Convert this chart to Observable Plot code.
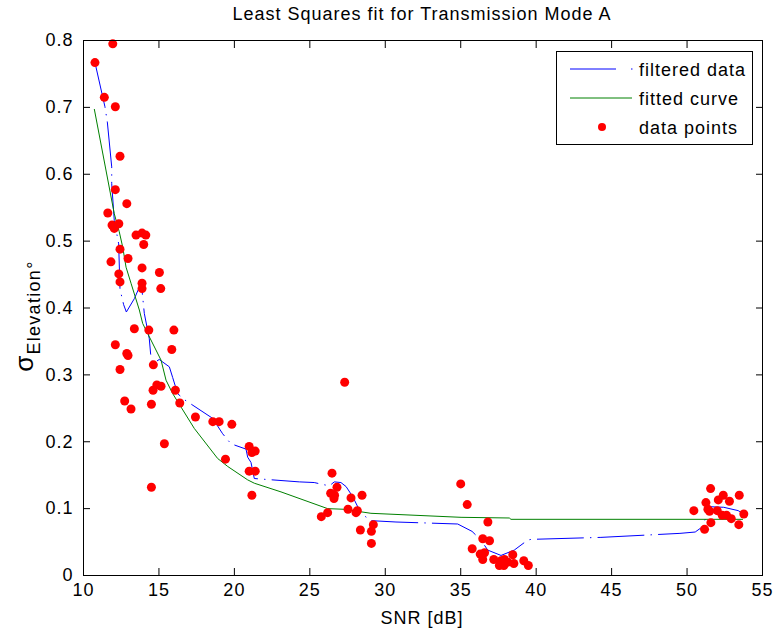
<!DOCTYPE html>
<html>
<head>
<meta charset="utf-8">
<script src="https://cdn.jsdelivr.net/npm/d3@7"></script>
<script src="https://cdn.jsdelivr.net/npm/@observablehq/plot@0.6"></script>
<style>
  html, body { margin: 0; padding: 0; background: #fff; }
  #wrap { position: relative; width: 777px; height: 635px; overflow: hidden;
          font-family: "Liberation Sans", Arial, Helvetica, sans-serif; letter-spacing: 1px; color: #000; }
  #wrap svg { position: absolute; left: 0; top: 0; }
  .title { position: absolute; left: 0; width: 844px; top: 5px; text-align: center; font-size: 18px; line-height: 18px; }
  .xlabel { position: absolute; left: 0; width: 844px; top: 609px; text-align: center; font-size: 18px; line-height: 18px; }
  .ylabel { position: absolute; left: 29px; top: 316px; transform: translate(-50%, -50%) rotate(-90deg);
            white-space: nowrap; line-height: 24px; }
  .ylabel .sym { font-size: 26px; }
  .ylabel sub { font-size: 18px; vertical-align: -7px; letter-spacing: 1.3px; }
</style>
</head>
<body>
<div id="wrap"></div>
<script>
// ---- data ----
const titleText = "Least Squares fit for Transmission Mode A";
const xLabelText = "SNR [dB]";
const ySymbol = "σ";
const ySubscript = "Elevation°";
const legendLabels = ["filtered data", "fitted curve", "data points"];
const xTicks = [10, 15, 20, 25, 30, 35, 40, 45, 50, 55];
const yTicks = [0, 0.1, 0.2, 0.3, 0.4, 0.5, 0.6, 0.7, 0.8];

// data points
const pointSnr = [
  10.76, 11.94, 11.38, 12.11, 12.42, 12.11, 12.87, 11.61, 11.89, 12.34, 12.04, 13.48, 13.88, 14.13, 13.99,
  12.42, 11.82, 12.95, 13.88, 15.03, 12.34, 12.42, 13.88, 13.88, 15.12, 13.37, 14.33, 15.99, 12.11, 12.87,
  12.95, 15.85, 12.42, 14.63, 14.86, 15.14, 14.61, 16.09, 12.73, 13.15, 14.50, 16.38, 15.36, 14.50, 17.42,
  18.57, 18.99, 19.83, 19.41, 20.98, 21.16, 21.38, 20.98, 21.38, 21.16,
  27.31, 26.47, 26.80, 26.38, 26.64, 26.60, 27.73, 28.46, 27.53, 26.18, 25.76, 28.15, 28.06, 29.21, 29.08,
  28.35, 29.08,
  35.00, 35.43, 36.80, 36.46, 36.91, 35.76, 36.29, 36.58, 36.46, 37.19, 37.67, 37.90, 37.56, 37.86, 38.12,
  38.45, 38.52, 39.18, 39.48,
  51.56, 52.40, 53.46, 52.07, 52.81, 51.25, 50.45, 51.38, 51.49, 52.00, 52.33, 52.62, 52.93, 53.76, 51.58,
  53.43, 51.16
];
const pointSigma = [
  0.767, 0.795, 0.715, 0.701, 0.627, 0.577, 0.556, 0.542, 0.524, 0.526, 0.519, 0.509, 0.512, 0.509, 0.495,
  0.488, 0.469, 0.474, 0.460, 0.453, 0.451, 0.439, 0.437, 0.429, 0.429, 0.369, 0.367, 0.367, 0.345, 0.332,
  0.329, 0.338, 0.308, 0.315, 0.285, 0.283, 0.277, 0.277, 0.261, 0.249, 0.256, 0.258, 0.197, 0.132, 0.237,
  0.230, 0.230, 0.226, 0.174, 0.193, 0.184, 0.186, 0.156, 0.156, 0.120,
  0.289, 0.153, 0.132, 0.123, 0.120, 0.115, 0.116, 0.120, 0.099, 0.094, 0.088, 0.097, 0.094, 0.076, 0.066,
  0.068, 0.048,
  0.137, 0.106, 0.080, 0.055, 0.052, 0.040, 0.032, 0.034, 0.024, 0.024, 0.022, 0.024, 0.015, 0.015, 0.020,
  0.031, 0.018, 0.022, 0.015,
  0.130, 0.120, 0.120, 0.113, 0.111, 0.109, 0.097, 0.099, 0.096, 0.097, 0.090, 0.090, 0.085, 0.092, 0.079,
  0.076, 0.069
];

// filtered data (blue dash-dot)
const filteredSnr = [
  10.76, 11.42, 11.58, 11.87, 11.87, 12.04, 12.33, 12.42, 12.66, 12.84, 13.37, 13.70, 13.88, 14.03, 14.36,
  14.45, 14.61, 15.02, 15.69, 15.91, 16.24, 16.68, 18.56, 19.22, 19.77, 20.77, 20.88, 21.10, 21.32, 24.30,
  25.29, 26.29, 26.62, 27.06, 27.40, 27.84, 28.39, 29.05, 30.71, 34.80, 35.75, 36.34, 36.79, 37.67, 38.55,
  39.44, 39.66, 44.29, 49.53, 50.54, 51.03, 51.32, 51.36, 52.43, 53.39, 53.68
];
const filteredSigma = [
  0.767, 0.701, 0.678, 0.611, 0.586, 0.531, 0.496, 0.428, 0.405, 0.394, 0.414, 0.431, 0.426, 0.392, 0.354,
  0.331, 0.317, 0.323, 0.312, 0.296, 0.272, 0.263, 0.235, 0.212, 0.197, 0.189, 0.177, 0.169, 0.145, 0.140,
  0.139, 0.134, 0.140, 0.139, 0.133, 0.118, 0.093, 0.082, 0.080, 0.077, 0.066, 0.053, 0.038, 0.030, 0.038,
  0.053, 0.054, 0.057, 0.063, 0.065, 0.073, 0.092, 0.103, 0.102, 0.097, 0.093
];

// fitted curve (green)
const fittedSnr = [
  10.72, 12.04, 12.37, 12.60, 12.82, 13.15, 13.70, 13.92, 14.25, 15.14, 15.47, 15.91, 16.46, 17.34, 18.89,
  19.56, 20.88, 21.32, 23.09, 26.18, 27.28, 29.05, 35.02, 38.22, 38.33, 53.68
];
const fittedSigma = [
  0.697, 0.541, 0.514, 0.491, 0.461, 0.437, 0.397, 0.377, 0.362, 0.322, 0.292, 0.272, 0.252, 0.220, 0.175,
  0.163, 0.143, 0.138, 0.125, 0.100, 0.099, 0.093, 0.087, 0.086, 0.084, 0.084
];

// ---- tables built from the arrays ----
const points = pointSnr.map((x, i) => ({snr: x, sigma: pointSigma[i]}));
const filtered = filteredSnr.map((x, i) => ({snr: x, sigma: filteredSigma[i]}));
const fitted = fittedSnr.map((x, i) => ({snr: x, sigma: fittedSigma[i]}));

const BLUE = "#0000ff", GREEN = "#008000", RED = "#ff0000";
const DASH = "46,7,0.6,7";
const fmt = d3.format("~g");

const chart = Plot.plot({
  width: 777,
  height: 635,
  marginLeft: 83,
  marginRight: 15,
  marginTop: 40,
  marginBottom: 60,
  x: {domain: [10, 55]},
  y: {domain: [0, 0.8]},
  style: {
    fontFamily: "'Liberation Sans', Arial, Helvetica, sans-serif",
    fontSize: "18px",
    letterSpacing: "1px",
    color: "black",
    background: "white",
    overflow: "visible"
  },
  marks: [
    Plot.line(filtered, {x: "snr", y: "sigma", stroke: BLUE, strokeWidth: 1, strokeDasharray: DASH}),
    Plot.line(fitted, {x: "snr", y: "sigma", stroke: GREEN, strokeWidth: 1}),
    Plot.dot(points, {x: "snr", y: "sigma", r: 4.5, fill: RED, stroke: "none"}),
    Plot.frame({stroke: "black", strokeWidth: 1}),
    Plot.axisX(xTicks, {anchor: "bottom", tickSize: 7, dy: -7, fill: "none", label: null}),
    Plot.axisX(xTicks, {anchor: "top", tickSize: 7, dy: 7, fill: "none", label: null}),
    Plot.axisX(xTicks, {anchor: "bottom", tickSize: 0, tickPadding: 8, label: null}),
    Plot.axisY(yTicks, {anchor: "left", tickSize: 7, dx: 7, fill: "none", label: null}),
    Plot.axisY(yTicks, {anchor: "right", tickSize: 7, dx: -7, fill: "none", label: null}),
    Plot.axisY(yTicks, {anchor: "left", tickSize: 0, tickPadding: 10, label: null, tickFormat: fmt})
  ]
});

const wrap = document.getElementById("wrap");
wrap.appendChild(chart);

// title
const t = document.createElement("div");
t.className = "title"; t.textContent = titleText; wrap.appendChild(t);
// x label
const xl = document.createElement("div");
xl.className = "xlabel"; xl.textContent = xLabelText; wrap.appendChild(xl);
// y label
const yl = document.createElement("div");
yl.className = "ylabel";
const sym = document.createElement("span"); sym.className = "sym"; sym.textContent = ySymbol;
const sub = document.createElement("sub"); sub.textContent = ySubscript;
yl.appendChild(sym); yl.appendChild(sub);
wrap.appendChild(yl);

// legend
const leg = d3.select(wrap).append("svg")
  .attr("width", 197).attr("height", 95)
  .style("left", "556px").style("top", "51px")
  .style("font-family", "'Liberation Sans', Arial, Helvetica, sans-serif")
  .style("font-size", "18px").style("letter-spacing", "1px");
leg.append("rect").attr("x", 0.5).attr("y", 0.5).attr("width", 196).attr("height", 93)
  .attr("fill", "white").attr("stroke", "black");
const rows = [18, 47, 76];
// filtered data symbol
leg.append("line").attr("x1", 14).attr("x2", 60).attr("y1", rows[0]).attr("y2", rows[0]).attr("stroke", BLUE);
leg.append("line").attr("x1", 75).attr("x2", 76.5).attr("y1", rows[0]).attr("y2", rows[0]).attr("stroke", BLUE);
// fitted curve symbol
leg.append("line").attr("x1", 14).attr("x2", 76).attr("y1", rows[1]).attr("y2", rows[1]).attr("stroke", GREEN);
// data points symbol
leg.append("circle").attr("cx", 46).attr("cy", rows[2]).attr("r", 4).attr("fill", RED);
legendLabels.forEach((lab, i) => {
  leg.append("text").attr("x", 83).attr("y", rows[i] + 6.5).attr("fill", "black").text(lab);
});
</script>
</body>
</html>
